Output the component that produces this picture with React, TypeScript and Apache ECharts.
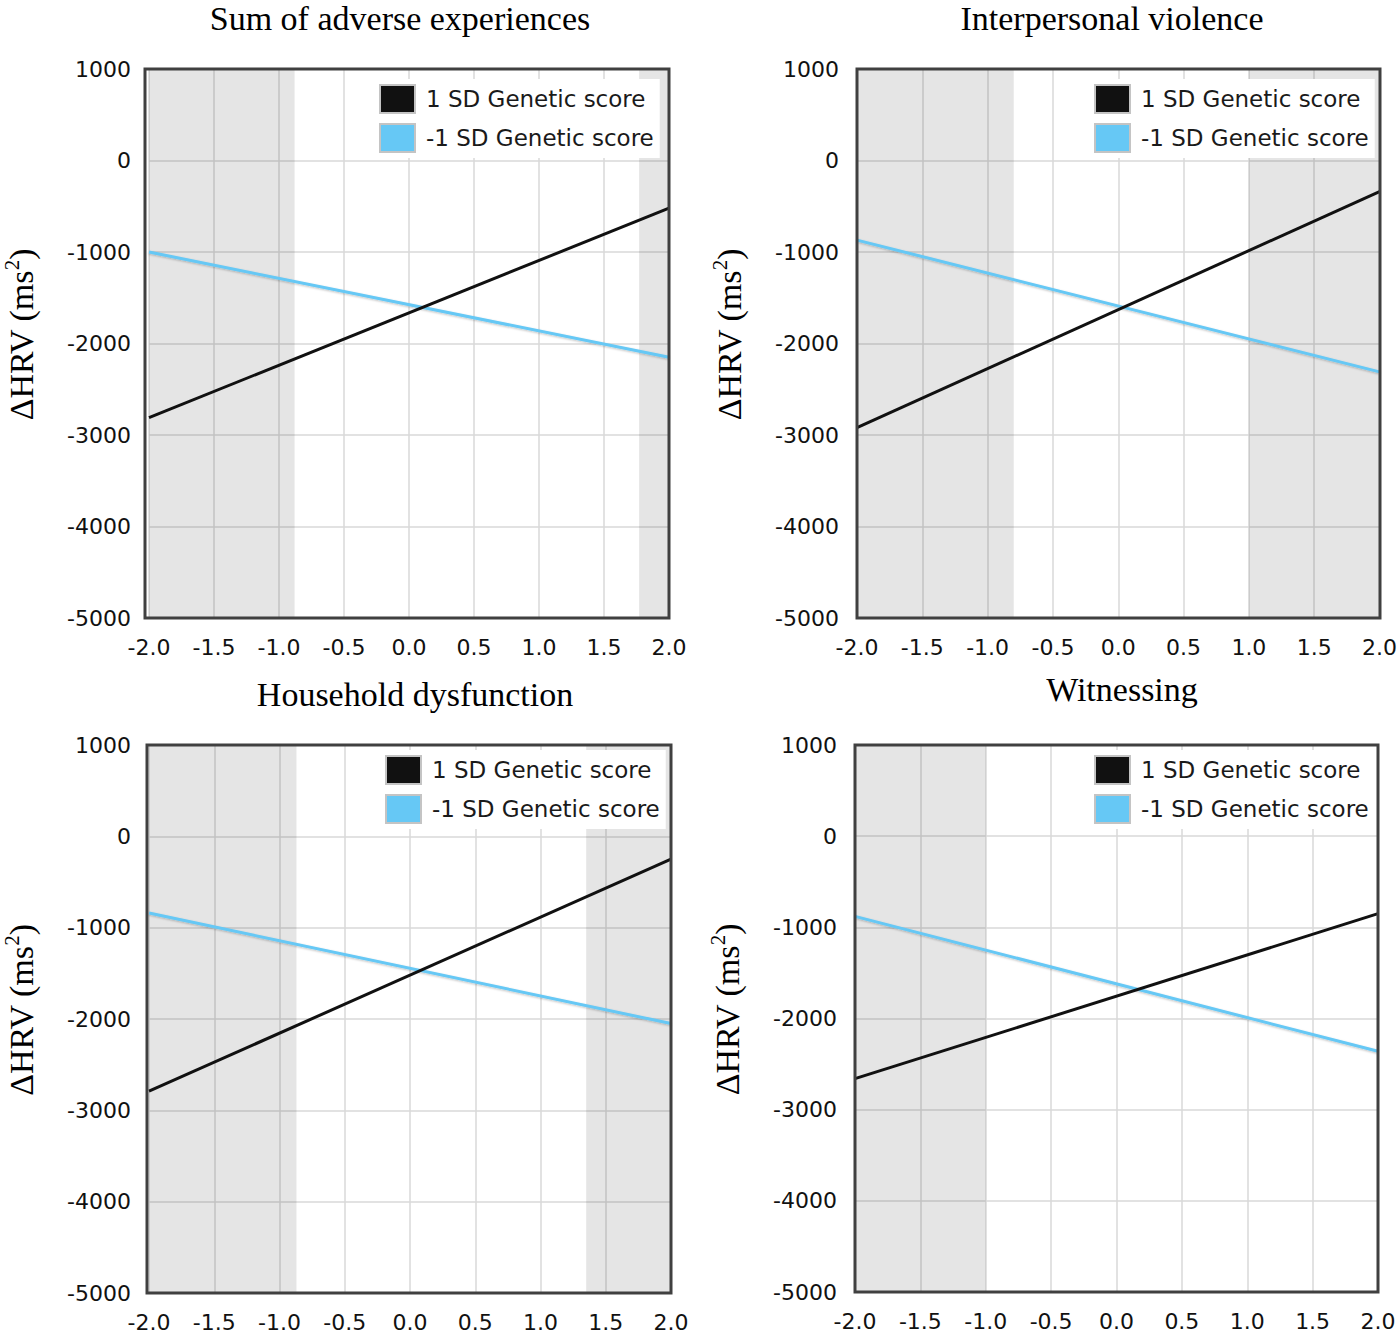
import React, { useEffect, useRef } from "react";
import * as echarts from "echarts";

const titles = [
  "Sum of adverse experiences",
  "Interpersonal violence",
  "Household dysfunction",
  "Witnessing",
];
const seriesNames = ["1 SD Genetic score", "-1 SD Genetic score"];
const xEnds = [-2, 2];
const highSD = [
  [-2810, -520],
  [-2920, -340],
  [-2790, -250],
  [-2660, -850],
];
const lowSD = [
  [-1000, -2150],
  [-870, -2310],
  [-840, -2050],
  [-880, -2360],
];
const shadeLeftEnd = [-0.88, -0.8, -0.87, -1.0];
const shadeRightStart: (number | null)[] = [1.77, 1.0, 1.35, null];

const grids = [
  { left: 145, top: 69, width: 524, height: 549 },
  { left: 857, top: 69, width: 523, height: 549 },
  { left: 147, top: 745, width: 524, height: 548 },
  { left: 855, top: 745, width: 523, height: 547 },
];
const titlePos = [
  { x: 400, y: 1 },
  { x: 1112, y: 1 },
  { x: 415, y: 677 },
  { x: 1122, y: 672 },
];
const legendPos = [
  { x: 372, y: 79 },
  { x: 1087, y: 79 },
  { x: 378, y: 750 },
  { x: 1087, y: 750 },
];

const SANS = "DejaVu Sans";
const SERIF = "Liberation Serif";

export default function App() {
  const ref = useRef<HTMLDivElement>(null);
  useEffect(() => {
    if (!ref.current) return;
    const chart = echarts.init(ref.current, undefined, { renderer: "svg" });
    const series: any[] = [];
    for (let i = 0; i < 4; i++) {
      const areas: any[] = [[{ xAxis: -2 }, { xAxis: shadeLeftEnd[i] }]];
      const rs = shadeRightStart[i];
      if (rs !== null) areas.push([{ xAxis: rs }, { xAxis: 2 }]);
      series.push({
        type: "line",
        xAxisIndex: i,
        yAxisIndex: i,
        data: [],
        z: 1,
        silent: true,
        markArea: {
          silent: true,
          itemStyle: { color: "rgba(0,0,0,0.1)" },
          data: areas,
        },
      });
      series.push({
        name: seriesNames[0],
        type: "line",
        xAxisIndex: i,
        yAxisIndex: i,
        showSymbol: false,
        z: 4,
        color: "#111111",
        lineStyle: { width: 3, color: "#111111" },
        data: [
          [xEnds[0], highSD[i][0]],
          [xEnds[1], highSD[i][1]],
        ],
      });
      series.push({
        name: seriesNames[1],
        type: "line",
        xAxisIndex: i,
        yAxisIndex: i,
        showSymbol: false,
        z: 3,
        color: "#66c8f5",
        lineStyle: {
          width: 3,
          color: "#66c8f5",
          shadowColor: "rgba(0,0,0,0.25)",
          shadowBlur: 2,
          shadowOffsetY: 1,
        },
        data: [
          [xEnds[0], lowSD[i][0]],
          [xEnds[1], lowSD[i][1]],
        ],
      });
    }
    const option: any = {
      animation: false,
      backgroundColor: "#ffffff",
      title: titles.map((t, i) => ({
        text: t,
        left: titlePos[i].x,
        top: titlePos[i].y,
        textAlign: "center",
        padding: 0,
        textStyle: {
          fontFamily: SERIF,
          fontSize: 34,
          fontWeight: "normal",
          color: "#000",
        },
      })),
      legend: legendPos.map((p) => ({
        data: seriesNames,
        orient: "vertical",
        left: p.x,
        top: p.y,
        backgroundColor: "#ffffff",
        padding: [5, 6, 5, 7],
        itemWidth: 35,
        itemHeight: 28,
        itemGap: 9,
        icon: "rect",
        itemStyle: { borderColor: "#c4c4c4", borderWidth: 2 },
        selectedMode: false,
        textStyle: {
          fontFamily: SANS,
          fontSize: 23,
          color: "#1a1a1a",
          padding: [0, 0, 0, 6],
        },
      })),
      grid: grids.map((g) => ({
        ...g,
        show: true,
        backgroundColor: "#ffffff",
        borderWidth: 0,
      })),
      graphic: grids.map((g) => ({
        type: "rect",
        z: 100,
        silent: true,
        shape: { x: g.left, y: g.top, width: g.width, height: g.height },
        style: { fill: "none", stroke: "#404040", lineWidth: 3 },
      })),
      xAxis: grids.map((_, i) => ({
        type: "value",
        gridIndex: i,
        min: -2,
        max: 2,
        interval: 0.5,
        axisLine: { show: false },
        axisTick: { show: false },
        splitLine: { show: true, lineStyle: { color: "#d9d9d9", width: 1.5 } },
        axisLabel: {
          margin: 18,
          fontFamily: SANS,
          fontSize: 22,
          color: "#111",
          formatter: (v: number) => v.toFixed(1),
        },
      })),
      yAxis: grids.map((_, i) => ({
        type: "value",
        gridIndex: i,
        min: -5000,
        max: 1000,
        interval: 1000,
        axisLine: { show: false },
        axisTick: { show: false },
        splitLine: { show: true, lineStyle: { color: "#d9d9d9", width: 1.5 } },
        axisLabel: {
          margin: 18,
          fontFamily: SANS,
          fontSize: 22,
          color: "#111",
          formatter: (v: number) => String(v),
        },
        name: "{a|ΔHRV (ms}{b|2}{a|)}",
        nameLocation: "middle",
        nameRotate: 90,
        nameGap: 108,
        nameTextStyle: {
          padding: [0, 0, 0, 18],
          rich: {
            a: { fontFamily: SERIF, fontSize: 34, color: "#000", lineHeight: 40 },
            b: {
              fontFamily: SERIF,
              fontSize: 21,
              color: "#000",
              verticalAlign: "top",
              lineHeight: 40,
              padding: [0, 0, 16, 0],
            },
          },
        },
      })),
      series,
    };
    chart.setOption(option);
    return () => chart.dispose();
  }, []);
  return (
    <div
      ref={ref}
      style={{ position: "fixed", left: 0, top: 0, width: 1400, height: 1335 }}
    />
  );
}
